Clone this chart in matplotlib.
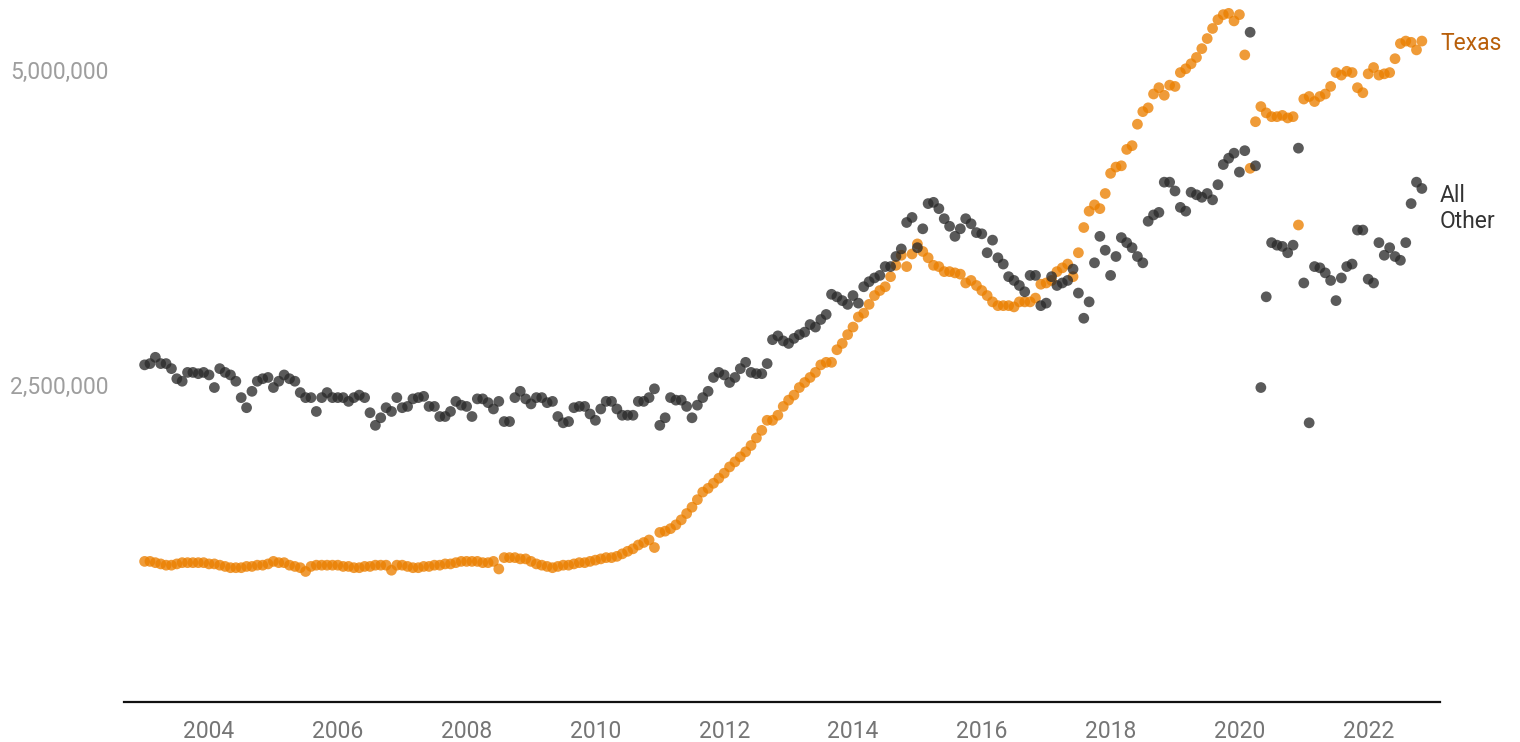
import numpy as np
import matplotlib.pyplot as plt

plt.rcParams['font.family'] = ['Roboto', 'DejaVu Sans']

# monthly values in millions, Jan 2003 - Nov 2022
texas = [
    1.10, 1.10, 1.09, 1.08, 1.07, 1.07, 1.08, 1.09, 1.09, 1.09, 1.09, 1.09,  # 2003
    1.08, 1.08, 1.07, 1.06, 1.05, 1.05, 1.05, 1.06, 1.06, 1.07, 1.07, 1.08,  # 2004
    1.10, 1.09, 1.09, 1.07, 1.06, 1.05, 1.02, 1.06, 1.07, 1.07, 1.07, 1.07,  # 2005
    1.07, 1.06, 1.06, 1.05, 1.05, 1.06, 1.06, 1.07, 1.07, 1.07, 1.03, 1.07,  # 2006
    1.07, 1.06, 1.05, 1.05, 1.06, 1.06, 1.07, 1.07, 1.08, 1.08, 1.09, 1.10,  # 2007
    1.10, 1.10, 1.10, 1.09, 1.09, 1.10, 1.04, 1.13, 1.13, 1.13, 1.12, 1.12,  # 2008
    1.10, 1.08, 1.07, 1.06, 1.05, 1.06, 1.07, 1.07, 1.08, 1.09, 1.09, 1.10,  # 2009
    1.11, 1.12, 1.13, 1.13, 1.14, 1.16, 1.18, 1.20, 1.23, 1.25, 1.27, 1.21,  # 2010
    1.33, 1.34, 1.36, 1.39, 1.43, 1.48, 1.53, 1.59, 1.65, 1.68, 1.72, 1.76,  # 2011
    1.80, 1.85, 1.89, 1.93, 1.97, 2.02, 2.08, 2.14, 2.22, 2.22, 2.26, 2.33,  # 2012
    2.38, 2.42, 2.48, 2.52, 2.56, 2.60, 2.66, 2.68, 2.68, 2.78, 2.83, 2.90,  # 2013
    2.96, 3.04, 3.07, 3.14, 3.21, 3.25, 3.28, 3.36, 3.45, 3.53, 3.44, 3.54,  # 2014
    3.62, 3.56, 3.51, 3.45, 3.44, 3.40, 3.40, 3.39, 3.38, 3.31, 3.33, 3.29,  # 2015
    3.25, 3.21, 3.16, 3.13, 3.13, 3.13, 3.12, 3.16, 3.16, 3.16, 3.19, 3.30,  # 2016
    3.31, 3.33, 3.40, 3.43, 3.46, 3.36, 3.55, 3.75, 3.88, 3.93, 3.90, 4.02,  # 2017
    4.18, 4.23, 4.24, 4.37, 4.40, 4.57, 4.67, 4.70, 4.81, 4.86, 4.80, 4.88,  # 2018
    4.87, 4.98, 5.01, 5.05, 5.10, 5.17, 5.25, 5.33, 5.40, 5.44, 5.45, 5.39,  # 2019
    5.44, 5.12, 4.22, 4.59, 4.71, 4.66, 4.63, 4.63, 4.64, 4.62, 4.63, 3.77,  # 2020
    4.77, 4.79, 4.75, 4.79, 4.81, 4.87, 4.98, 4.96, 4.99, 4.98, 4.86, 4.82,  # 2021
    4.97, 5.02, 4.96, 4.97, 4.98, 5.09, 5.21, 5.23, 5.22, 5.16, 5.23,        # 2022
]

all_other = [
    2.66, 2.67, 2.72, 2.67, 2.67, 2.63, 2.55, 2.53, 2.60, 2.60, 2.59, 2.60,  # 2003
    2.58, 2.48, 2.63, 2.60, 2.58, 2.53, 2.40, 2.32, 2.45, 2.53, 2.55, 2.56,  # 2004
    2.48, 2.53, 2.58, 2.55, 2.53, 2.44, 2.40, 2.40, 2.29, 2.40, 2.44, 2.40,  # 2005
    2.40, 2.40, 2.37, 2.40, 2.42, 2.40, 2.28, 2.18, 2.24, 2.32, 2.29, 2.40,  # 2006
    2.32, 2.33, 2.39, 2.40, 2.41, 2.33, 2.33, 2.25, 2.25, 2.29, 2.37, 2.34,  # 2007
    2.33, 2.25, 2.39, 2.39, 2.36, 2.31, 2.37, 2.21, 2.21, 2.40, 2.45, 2.39,  # 2008
    2.35, 2.40, 2.40, 2.36, 2.37, 2.25, 2.20, 2.21, 2.32, 2.33, 2.33, 2.27,  # 2009
    2.22, 2.31, 2.37, 2.37, 2.31, 2.26, 2.26, 2.26, 2.37, 2.37, 2.40, 2.47,  # 2010
    2.18, 2.24, 2.40, 2.38, 2.38, 2.33, 2.24, 2.34, 2.40, 2.45, 2.56, 2.60,  # 2011
    2.58, 2.52, 2.56, 2.63, 2.68, 2.60, 2.59, 2.59, 2.67, 2.86, 2.89, 2.85,  # 2012
    2.83, 2.87, 2.90, 2.92, 2.98, 2.96, 3.02, 3.06, 3.22, 3.20, 3.17, 3.14,  # 2013
    3.21, 3.15, 3.28, 3.32, 3.35, 3.37, 3.44, 3.44, 3.52, 3.58, 3.79, 3.83,  # 2014
    3.59, 3.74, 3.94, 3.95, 3.90, 3.82, 3.76, 3.68, 3.74, 3.82, 3.78, 3.71,  # 2015
    3.70, 3.55, 3.65, 3.51, 3.46, 3.36, 3.33, 3.29, 3.24, 3.37, 3.37, 3.13,  # 2016
    3.15, 3.36, 3.29, 3.31, 3.33, 3.42, 3.23, 3.03, 3.16, 3.47, 3.68, 3.57,  # 2017
    3.37, 3.52, 3.67, 3.63, 3.59, 3.52, 3.47, 3.80, 3.85, 3.87, 4.11, 4.11,  # 2018
    4.04, 3.91, 3.88, 4.03, 4.01, 3.99, 4.02, 3.97, 4.09, 4.25, 4.30, 4.34,  # 2019
    4.19, 4.36, 5.30, 4.24, 2.48, 3.20, 3.63, 3.61, 3.60, 3.55, 3.61, 4.38,  # 2020
    3.31, 2.20, 3.44, 3.43, 3.39, 3.33, 3.17, 3.35, 3.44, 3.46, 3.73, 3.73,  # 2021
    3.34, 3.31, 3.63, 3.53, 3.59, 3.52, 3.49, 3.63, 3.94, 4.11, 4.06,        # 2022
]

start_year = 2003
year_ticks = list(range(2004, 2023, 2))
y_ticks = [2500000, 5000000]

months = np.arange(len(texas))
t = start_year + months / 12.0
tx = np.array(texas) * 1e6
oth = np.array(all_other) * 1e6

fig = plt.figure(figsize=(15.2, 7.42), dpi=100)
ax = fig.add_axes([124 / 1520, 40 / 742, 1316 / 1520, 702 / 742])

ax.scatter(t, tx, s=60, color='#EB7F00', alpha=0.78, edgecolors='none', zorder=2)
ax.scatter(t, oth, s=60, color='#2B2B2B', alpha=0.78, edgecolors='none', zorder=3)

ax.set_xlim(2002.68, 2023.115)
ax.set_ylim(-0.016e6, 5.556e6)

ax.set_xticks(year_ticks)
ax.set_xticklabels([str(y) for y in year_ticks])
ax.set_yticks(y_ticks)
ax.set_yticklabels([f"{v:,}" for v in y_ticks])
ax.tick_params(axis='x', length=0, pad=13, labelsize=16.5, labelcolor='#757575')
ax.tick_params(axis='y', length=0, pad=11, labelsize=16.5, labelcolor='#9E9E9E')

for side in ['top', 'right', 'left']:
    ax.spines[side].set_visible(False)
ax.spines['bottom'].set_linewidth(1.6)
ax.spines['bottom'].set_color('#111111')

ax.text(1.0, 5.21e6, "Texas", transform=ax.get_yaxis_transform(),
        fontsize=16.5, color='#B85F0A', va='center', ha='left')
ax.text(1.0, 3.90e6, "All\nOther", transform=ax.get_yaxis_transform(),
        fontsize=16.5, color='#333333', va='center', ha='left', linespacing=1.15)

fig.savefig('out.png', dpi=100)
